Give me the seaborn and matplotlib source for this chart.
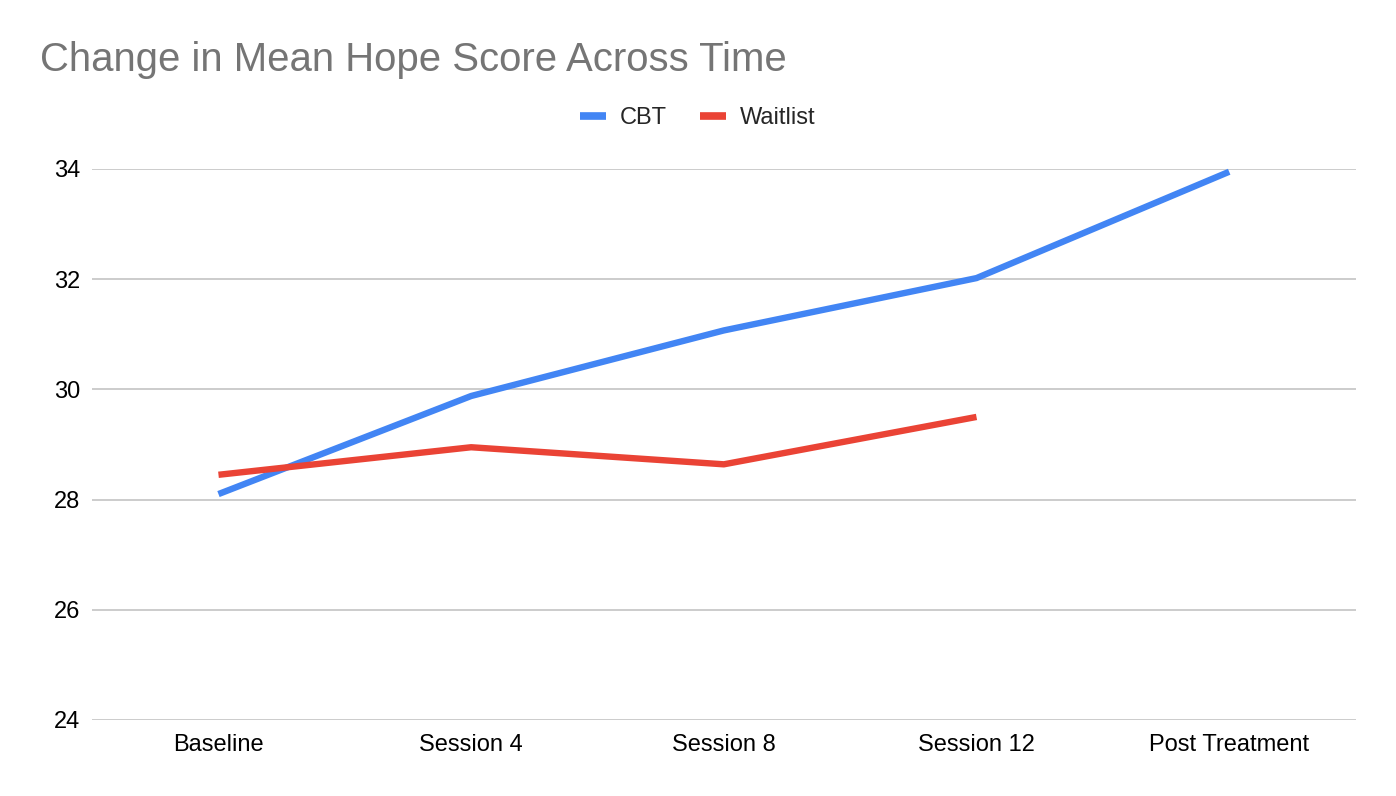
import matplotlib
matplotlib.use("Agg")
import matplotlib.pyplot as plt
import seaborn as sns
import pandas as pd

# values
timepoints = ["Baseline", "Session 4", "Session 8", "Session 12", "Post Treatment"]
cbt = [28.1, 29.88, 31.07, 32.02, 33.95]
waitlist = [28.45, 28.95, 28.64, 29.5, None]

df = pd.DataFrame({"Time": timepoints * 2,
                   "Score": cbt + waitlist,
                   "Group": ["CBT"] * 5 + ["Waitlist"] * 5})
df["x"] = list(range(5)) * 2

sns.set_theme(style="white")
plt.rcParams["font.family"] = ["Liberation Sans", "DejaVu Sans"]

fig = plt.figure(figsize=(13.96, 7.96), dpi=100)
ax = fig.add_axes([0.066, 0.0955, 0.905, 0.6922])

palette = {"CBT": "#4285f4", "Waitlist": "#ea4335"}
sns.lineplot(data=df.dropna(), x="x", y="Score", hue="Group", palette=palette,
             linewidth=4.6, ax=ax, legend=False, sort=False, clip_on=False,
             solid_capstyle="butt")

ax.set_xlim(-0.5, 4.5)
ax.set_ylim(24, 34)
ax.set_yticks([24, 26, 28, 30, 32, 34])
ax.set_xticks(range(5))
ax.set_xticklabels(timepoints)
ax.set_xlabel("")
ax.set_ylabel("")
ax.yaxis.grid(True, color="#c8c8c8", linewidth=1.3)
ax.set_axisbelow(True)
for s in ax.spines.values():
    s.set_visible(False)
ax.tick_params(axis="both", length=0, labelsize=17, colors="#000000")
ax.tick_params(axis="y", pad=8.5)
ax.tick_params(axis="x", pad=10)

fig.text(0.0287, 0.925, "Change in Mean Hope Score Across Time", fontsize=28.9,
         color="#757575", va="center", ha="left")

handles = [plt.Line2D([], [], color=palette[g], linewidth=5.5, solid_capstyle="butt")
           for g in ["CBT", "Waitlist"]]
fig.legend(handles, ["CBT", "Waitlist"], loc="center", bbox_to_anchor=(0.5, 0.852),
           ncol=2, frameon=False, fontsize=17, handlelength=1.1, columnspacing=1.4,
           handletextpad=0.6)

fig.savefig("out.png", dpi=100)
